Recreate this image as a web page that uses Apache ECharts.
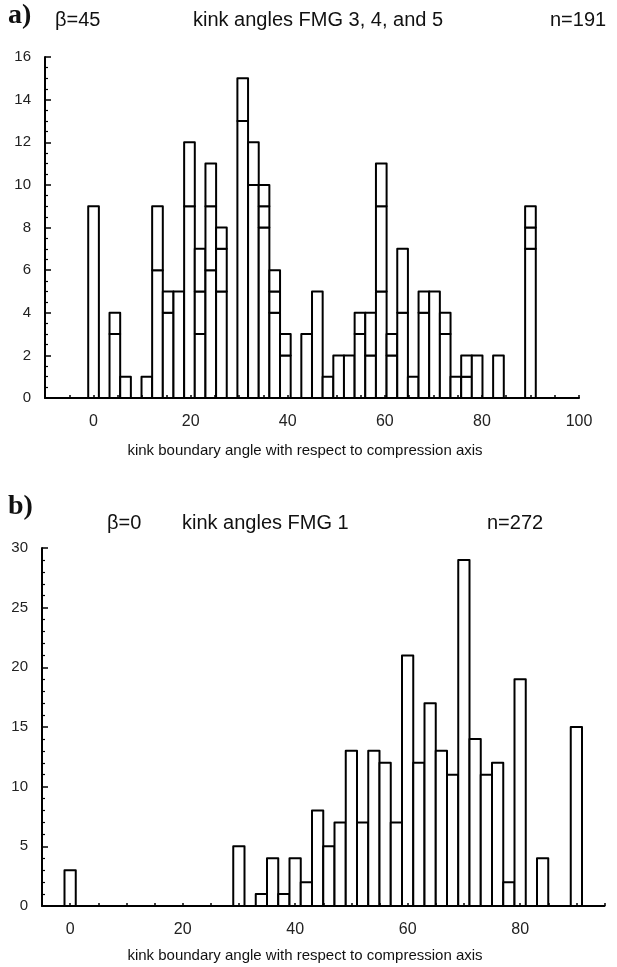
<!DOCTYPE html>
<html><head><meta charset="utf-8">
<script src="https://cdn.jsdelivr.net/npm/echarts@6/dist/echarts.min.js"></script>
<style>html,body{margin:0;padding:0;background:#fff}#c{width:617px;height:967px}</style>
</head><body><div id="c"></div>
<script>
// ---------- Panel a) : kink angles FMG 3, 4 and 5 (stacked, n=191) ----------
const topBinCenters = [0, 2.20, 4.39, 6.59, 8.78, 10.98, 13.17, 15.37, 17.56, 19.76,
  21.95, 24.15, 26.34, 28.54, 30.73, 32.93, 35.12, 37.32, 39.51, 41.71,
  43.90, 46.10, 48.29, 50.49, 52.68, 54.88, 57.07, 59.27, 61.46, 63.66,
  65.85, 68.05, 70.24, 72.44, 74.63, 76.83, 79.02, 81.22, 83.41, 85.61, 87.80, 90.00];
const topBinWidth = 2.195;
const topSeg1 = [9,0,3,1,0,1,6,4,5,9, 3,6,5,0,13,10,8,4,2,0, 3,5,1,2,2,3,2,5,2,4, 1,4,5,3,1,1,2,0,2,0,0,7];
const topSeg2 = [0,0,1,0,0,0,3,1,0,3, 2,3,2,0,2,2,1,1,1,0, 0,0,0,0,0,1,2,4,1,3, 0,1,0,1,0,1,0,0,0,0,0,1];
const topSeg3 = [0,0,0,0,0,0,0,0,0,0, 2,2,1,0,0,0,1,1,0,0, 0,0,0,0,0,0,0,2,0,0, 0,0,0,0,0,0,0,0,0,0,0,1];
const topYTicks = [0, 16, 2];      // min, max, step
const topXRange = [-10, 100, 5];

// ---------- Panel b) : kink angles FMG 1 (n=272) ----------
const botBinCenters = [0, 30, 34, 36, 38, 40, 42, 44, 46, 48, 50, 52, 54, 56, 58, 60, 62, 64, 66, 68, 70, 72, 74, 76, 78, 80, 84, 90];
const botCounts     = [3, 5, 1, 4, 1, 4, 2, 8, 5, 7, 13, 7, 13, 12, 7, 21, 12, 17, 13, 11, 29, 14, 11, 12, 2, 19, 4, 15];
const botBinWidth = 2;
const botYTicks = [0, 30, 5];
const botXRange = [-5, 95, 5];

const FONT = 'Liberation Sans, Arial, Helvetica, sans-serif';
const SERIF = 'bold 28px Liberation Serif, Times New Roman, serif';

function stackSeries(idx, centers, segs, binW) {
  const data = centers.map((c, i) => [c].concat(segs.map(s => s[i])));
  return {
    type: 'custom', xAxisIndex: idx, yAxisIndex: idx, data: data, z: 2,
    encode: { x: 0, y: 1 },
    renderItem: function (params, api) {
      const c = api.value(0);
      let base = 0;
      const children = [];
      for (let j = 0; j < segs.length; j++) {
        const v = api.value(j + 1);
        if (v > 0) {
          const p0 = api.coord([c - binW / 2, base]);
          const p1 = api.coord([c + binW / 2, base + v]);
          children.push({
            type: 'rect',
            shape: { x: p0[0], y: p1[1], width: p1[0] - p0[0], height: p0[1] - p1[1] },
            style: { fill: '#fff', stroke: '#000', lineWidth: 2, lineJoin: 'round' }
          });
          base += v;
        }
      }
      return { type: 'group', children: children };
    }
  };
}

function xAxisCfg(idx, range) {
  return {
    type: 'value', gridIndex: idx, min: range[0], max: range[1], interval: range[2], z: 5,
    axisLine: { show: true, onZero: false, lineStyle: { color: '#000', width: 2 } },
    axisTick: { show: true, inside: true, length: 3, lineStyle: { color: '#000', width: 1.5 } },
    splitLine: { show: false },
    axisLabel: {
      showMinLabel: true, showMaxLabel: true, margin: 16,
      fontFamily: FONT, fontSize: 16, color: '#222',
      formatter: v => (v % 20 === 0 ? String(v) : '')
    }
  };
}
function yAxisCfg(idx, ticks, minorSplit, labelMargin) {
  return {
    type: 'value', gridIndex: idx, min: ticks[0], max: ticks[1], interval: ticks[2], z: 5,
    axisLine: { show: true, onZero: false, lineStyle: { color: '#000', width: 2 } },
    axisTick: { show: true, inside: true, length: 6, lineStyle: { color: '#000', width: 1.5 } },
    minorTick: { show: true, splitNumber: minorSplit, length: 3, lineStyle: { color: '#000', width: 1.2 } },
    splitLine: { show: false },
    axisLabel: { margin: labelMargin, fontFamily: FONT, fontSize: 15, color: '#222' }
  };
}

const chart = echarts.init(document.getElementById('c'), null, { renderer: 'canvas' });
const T = (x, y, s, font, align) => ({
  type: 'text', x: x, y: y,
  style: { text: s, font: font, fill: '#111', textAlign: align || 'left', textVerticalAlign: 'middle' }
});

chart.setOption({
  animation: false,
  backgroundColor: '#fff',
  grid: [
    { left: 45, top: 57, width: 534, height: 341 },
    { left: 42, top: 548, width: 562.5, height: 358 }
  ],
  xAxis: [xAxisCfg(0, topXRange), xAxisCfg(1, botXRange)],
  yAxis: [yAxisCfg(0, topYTicks, 4, 14), yAxisCfg(1, botYTicks, 5, 14)],
  series: [
    stackSeries(0, topBinCenters, [topSeg1, topSeg2, topSeg3], topBinWidth),
    stackSeries(1, botBinCenters, [botCounts], botBinWidth)
  ],
  graphic: [
    T(8, 16, 'a)', SERIF),
    T(55, 20, 'β=45', '20px ' + FONT),
    T(193, 20, 'kink angles FMG 3, 4, and 5', '20px ' + FONT),
    T(550, 20, 'n=191', '20px ' + FONT),
    T(305, 451, 'kink boundary angle with respect to compression axis', '15px ' + FONT, 'center'),
    T(8, 507, 'b)', SERIF),
    T(107, 523, 'β=0', '20px ' + FONT),
    T(182, 523, 'kink angles FMG 1', '20px ' + FONT),
    T(487, 523, 'n=272', '20px ' + FONT),
    T(305, 956, 'kink boundary angle with respect to compression axis', '15px ' + FONT, 'center')
  ]
});
</script></body></html>
